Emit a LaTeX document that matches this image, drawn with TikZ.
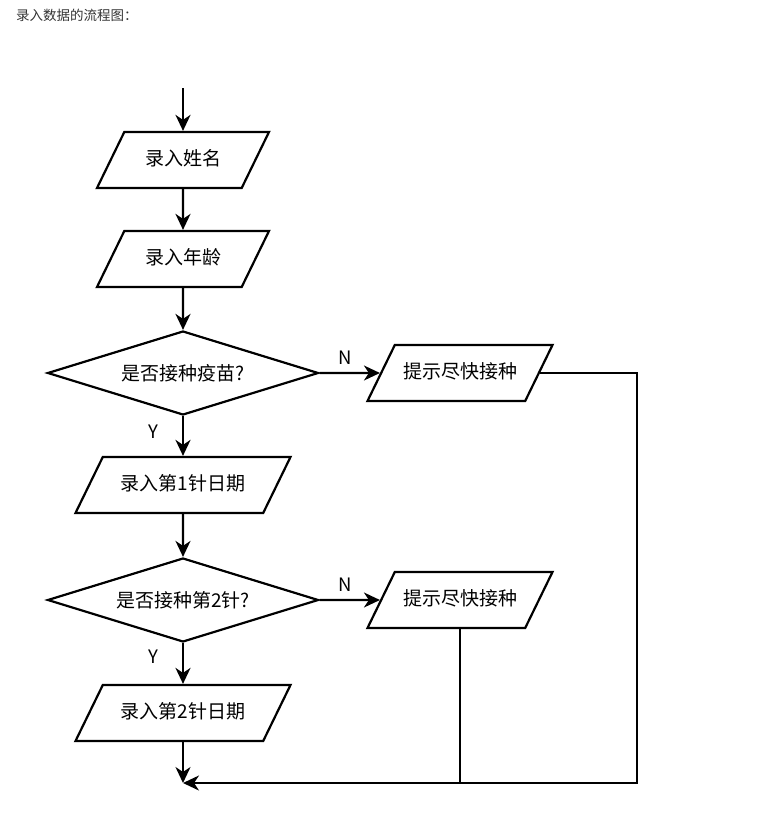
\documentclass[tikz,border=0pt]{standalone}
\usepackage{fontspec}
\setmainfont{Noto Sans CJK SC}
\usetikzlibrary{shapes.geometric, arrows.meta}

\tikzset{
    iobox/.style={trapezium, trapezium left angle=64, trapezium right angle=116,
        trapezium stretches body=true, draw, line width=2.2pt,
        inner xsep=0pt, inner ysep=20pt, text height=13pt, text depth=3pt,
        font=\fontsize{19}{21}\selectfont},
    decide/.style={diamond, draw, line width=2.2pt, inner sep=0pt, aspect=3.2,
        minimum width=271pt, minimum height=84pt, font=\fontsize{19}{21}\selectfont},
    flow/.style={line width=2.2pt, -{Stealth[length=16pt, width=15pt, inset=5pt]}},
    plain/.style={line width=2.2pt},
    yn/.style={font=\fontsize{18.5}{20}\selectfont}
}

\begin{document}
\begin{tikzpicture}[x=1pt, y=-1pt]
    \useasboundingbox (0,0) rectangle (764,828);

    % Title line
    \node[anchor=west, inner sep=0pt, text=black!80, font=\fontsize{13.5}{15}\selectfont] (title) at (16,15) {录入数据的流程图：};

    % Input steps
    \coordinate (start) at (183,88);
    \node[iobox, minimum width=172pt] (name) at (183,160) {录入姓名};
    \node[iobox, minimum width=172pt] (age) at (183,259) {录入年龄};

    % First decision
    \node[decide] (vacc) at (183,373) {是否接种疫苗?};
    \node[iobox, minimum width=185pt] (hint1) at (460,373) {提示尽快接种};

    \node[iobox, minimum width=215pt] (dose1) at (183,485) {录入第1针日期};

    % Second decision
    \node[decide] (second) at (183,600) {是否接种第2针?};
    \node[iobox, minimum width=185pt] (hint2) at (460,600) {提示尽快接种};

    \node[iobox, minimum width=215pt] (dose2) at (183,713) {录入第2针日期};

    % Merge point and right corner
    \coordinate (merge) at (183,783);
    \coordinate (corner) at (637,783);

    % Connectors
    \draw[flow] (start) -- (name);
    \draw[flow] (name) -- (age);
    \draw[flow] (age) -- (vacc);
    \draw[flow] (vacc) -- (hint1);
    \draw[flow] (vacc) -- (dose1);
    \draw[flow] (dose1) -- (second);
    \draw[flow] (second) -- (hint2);
    \draw[flow] (second) -- (dose2);
    \draw[flow] (dose2) -- (merge);
    \draw[flow] (hint1.east) -| (corner) -- (merge);
    \draw[plain] (hint2.south) -- (hint2.south |- merge);

    % Branch labels
    \node[yn] (n1) at (345,358) {N};
    \node[yn] (y1) at (153,432) {Y};
    \node[yn] (n2) at (345,585) {N};
    \node[yn] (y2) at (153,657) {Y};

\end{tikzpicture}
\end{document}
